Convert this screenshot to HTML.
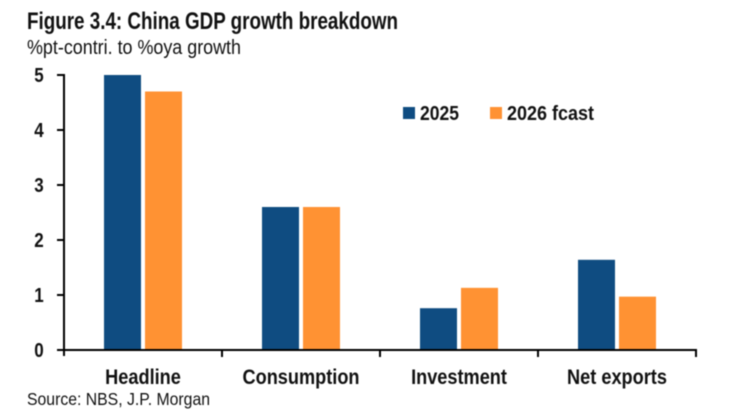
<!DOCTYPE html>
<html>
<head>
<meta charset="utf-8">
<style>
html,body{margin:0;padding:0;background:#fff;width:746px;height:418px;overflow:hidden}
svg{display:block;filter:blur(0.4px)}
text{font-family:"Liberation Sans",sans-serif;fill:#111}
</style>
</head>
<body>
<svg id="chart" width="746" height="418" viewBox="0 0 746 418" xmlns="http://www.w3.org/2000/svg">
  <rect x="0" y="0" width="746" height="418" fill="#ffffff"/>
  <text x="27" y="29" font-size="24" font-weight="700" textLength="371" lengthAdjust="spacingAndGlyphs">Figure 3.4: China GDP growth breakdown</text>
  <text x="27" y="54" font-size="20" fill="#222" textLength="214" lengthAdjust="spacingAndGlyphs">%pt-contri. to %oya growth</text>
  <g id="bars"></g>
  <g id="axes"></g>
  <g>
    <g>
      <rect x="403" y="107" width="12" height="12" fill="#0f4c81"/>
      <text x="420" y="120" font-size="20" font-weight="700" textLength="39" lengthAdjust="spacingAndGlyphs">2025</text>
    </g>
    <g>
      <rect x="490" y="107" width="12" height="12" fill="#ff9233"/>
      <text x="507" y="120" font-size="20" font-weight="700" textLength="87" lengthAdjust="spacingAndGlyphs">2026 fcast</text>
    </g>
  </g>
  <text x="27" y="405" font-size="17.5" fill="#222" textLength="183" lengthAdjust="spacingAndGlyphs">Source: NBS, J.P. Morgan</text>
</svg>
<script>
const categories = ["Headline", "Consumption", "Investment", "Net exports"];
const series2025 = [5, 2.6, 0.76, 1.64];
const series2026 = [4.7, 2.6, 1.13, 0.97];
const yTicks = [0, 1, 2, 3, 4, 5];

const NS = "http://www.w3.org/2000/svg";
const plotLeft = 64, plotRight = 696, plotBottom = 350, plotTop = 75;
const yMax = 5;
const barWidth = 37, barGap = 4;
const bandWidth = (plotRight - plotLeft) / categories.length;
const labelCondense = 0.865;

function yScale(v) { return plotBottom - (v / yMax) * (plotBottom - plotTop); }
function xBand(i) { return plotLeft + i * bandWidth; }
function slug(s) { return s.toLowerCase().replace(/\s+/g, "-"); }
function make(tag, attrs, parent) {
  const el = document.createElementNS(NS, tag);
  for (const k in attrs) el.setAttribute(k, attrs[k]);
  parent.appendChild(el);
  return el;
}

const barsGroup = document.getElementById("bars");
const axesGroup = document.getElementById("axes");
const groupWidth = barWidth * 2 + barGap;

categories.forEach(function (cat, i) {
  const start = xBand(i) + (bandWidth - groupWidth) / 2;
  const b1 = make("rect", { x: start, y: yScale(series2025[i]), width: barWidth, height: plotBottom - yScale(series2025[i]), fill: "#0f4c81" }, barsGroup);
  
  
  const b2 = make("rect", { x: start + barWidth + barGap, y: yScale(series2026[i]), width: barWidth, height: plotBottom - yScale(series2026[i]), fill: "#ff9233" }, barsGroup);
  
  
  const cx = xBand(i) + bandWidth / 2;
  const lab = make("text", { transform: "translate(" + cx + " 384) scale(" + labelCondense + " 1)", "font-size": 21, "font-weight": 700, "text-anchor": "middle" }, axesGroup);
  
  
  lab.textContent = cat;
});

const yAxis = make("line", { x1: plotLeft, x2: plotLeft, y1: plotTop - 1, y2: plotBottom + 6, stroke: "#000", "stroke-width": 2 }, axesGroup);


const xAxis = make("line", { x1: 57, x2: plotRight + 1, y1: plotBottom, y2: plotBottom, stroke: "#000", "stroke-width": 2 }, axesGroup);



yTicks.forEach(function (t) {
  const tk = make("line", { x1: 57, x2: plotLeft, y1: yScale(t), y2: yScale(t), stroke: "#000", "stroke-width": 2 }, axesGroup);
  
  
  const lb = make("text", { transform: "translate(39 " + (yScale(t) + 7) + ") scale(0.85 1)", "font-size": 20, "font-weight": 700, "text-anchor": "middle" }, axesGroup);
  
  
  lb.textContent = t;
});

for (let i = 1; i <= categories.length; i++) {
  const tk = make("line", { x1: xBand(i), x2: xBand(i), y1: plotBottom, y2: plotBottom + 7, stroke: "#000", "stroke-width": 2 }, axesGroup);
  
  
}
</script>
</body>
</html>
